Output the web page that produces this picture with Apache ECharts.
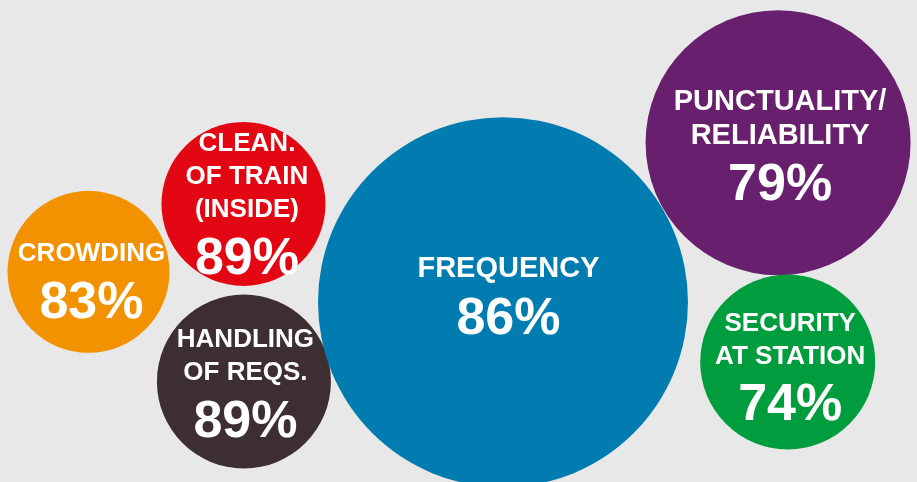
<!DOCTYPE html>
<html>
<head>
<meta charset="utf-8">
<script src="https://cdn.jsdelivr.net/npm/echarts@6/dist/echarts.min.js"></script>
<style>
  html, body { margin: 0; padding: 0; background: #e8e8e8; }
  #chart { width: 917px; height: 482px; }
</style>
</head>
<body>
<div id="chart"></div>
<script>
// ---- data ----
const categories = ['CROWDING', 'CLEAN.\nOF TRAIN\n(INSIDE)', 'HANDLING\nOF REQS.', 'FREQUENCY', 'PUNCTUALITY/\nRELIABILITY', 'SECURITY\nAT STATION'];
const satisfaction = [83, 89, 89, 86, 79, 74];
const xPos = [9.65, 26.55, 26.6, 54.85, 84.85, 85.9];
const yPos = [43.6, 57.7, 20.85, 37.3, 70.4, 24.9];
const weight = [162, 164, 174, 370, 265, 175];

// ---- styles ----
const colors = ['#f39200', '#e30613', '#3d2e32', '#007cb0', '#68206e', '#009d3e'];
const nameSize = [26, 26, 26, 29, 29, 26];
const labelShift = [[3, 15], [3.5, 6], [1.5, 8], [5.5, 0], [2, 9], [2.5, 11]];

const FONT = '"Liberation Sans", Arial, Helvetica, sans-serif';

const seriesData = categories.map((c, i) => ({
  name: c,
  value: [xPos[i], yPos[i], satisfaction[i], weight[i]],
  itemStyle: { color: colors[i], opacity: 1 },
  label: {
    offset: labelShift[i],
    formatter: () => {
      const key = nameSize[i] === 29 ? 'nb' : 'n';
      return c.split('\n').map(s => '{' + key + '|' + s + '}').join('\n') + '\n{p|' + satisfaction[i] + '%}';
    }
  }
}));

const chart = echarts.init(document.getElementById('chart'), null, { renderer: 'canvas' });
chart.setOption({
  backgroundColor: '#e8e8e8',
  animation: false,
  grid: { left: 0, right: 0, top: 0, bottom: 0 },
  xAxis: { type: 'value', min: 0, max: 100, show: false },
  yAxis: { type: 'value', min: 0, max: 100, show: false },
  series: [{
    type: 'scatter',
    symbol: 'circle',
    symbolSize: (val) => val[3],
    data: seriesData,
    emphasis: { disabled: true },
    label: {
      show: true,
      position: 'inside',
      color: '#ffffff',
      fontFamily: FONT,
      fontWeight: 'bold',
      align: 'center',
      verticalAlign: 'middle',
      rich: {
        n: { fontFamily: FONT, fontWeight: 'bold', fontSize: 26, lineHeight: 33, color: '#fff', align: 'center' },
        nb: { fontFamily: FONT, fontWeight: 'bold', fontSize: 29, lineHeight: 34, color: '#fff', align: 'center' },
        p: { fontFamily: FONT, fontWeight: 'bold', fontSize: 52, lineHeight: 66, color: '#fff', align: 'center' }
      }
    }
  }]
});
</script>
</body>
</html>
